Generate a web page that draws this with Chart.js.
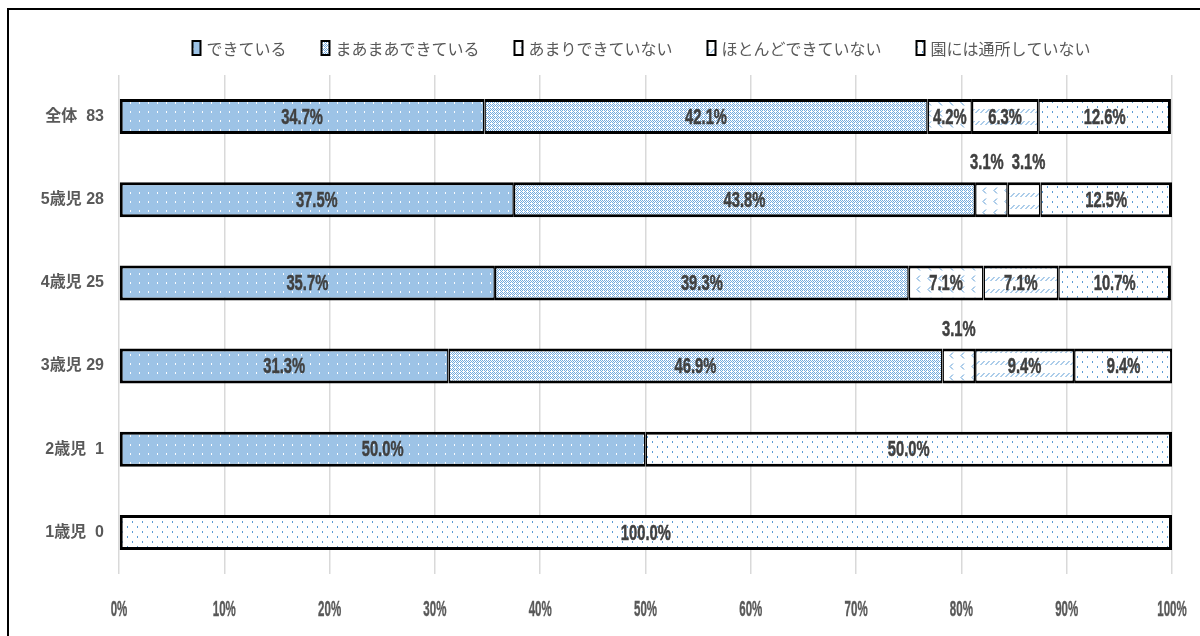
<!DOCTYPE html>
<html lang="ja">
<head>
<meta charset="utf-8">
<title>園での生活の状況</title>
<script src="https://cdn.jsdelivr.net/npm/chart.js@4.4.1/dist/chart.umd.min.js"></script>
<style>
  html, body { margin: 0; padding: 0; background: #ffffff; overflow: hidden; }
  #wrap { position: relative; width: 1200px; height: 636px; }
  #frame {
    position: absolute; left: 7px; top: 8px; right: -10px; bottom: -10px;
    border-left: 2.5px solid #000; border-top: 2.5px solid #000;
    pointer-events: none;
  }
  canvas { display: block; }
</style>
</head>
<body>
<div id="wrap">
  <canvas id="chart" width="1200" height="636"></canvas>
  <div id="frame"></div>
</div>
<script>
// 年齢区分（回答者数）
const categories = ['全体  83', '5歳児 28', '4歳児 25', '3歳児 29', '2歳児  1', '1歳児  0'];

// 回答の区分
const seriesNames = ['できている', 'まあまあできている', 'あまりできていない', 'ほとんどできていない', '園には通所していない'];

// 各区分の割合（%）。該当なしは null
const dekiteiru       = [34.7, 37.5, 35.7, 31.3, 50.0, null];
const maamaa          = [42.1, 43.8, 39.3, 46.9, null, null];
const amari           = [4.2, 3.1, 7.1, 3.1, null, null];
const hotondo         = [6.3, 3.1, 7.1, 9.4, null, null];
const tsushoShiteinai = [12.6, 12.5, 10.7, 9.4, 50.0, 100.0];

// 横軸の目盛り
const xTicks = [0, 10, 20, 30, 40, 50, 60, 70, 80, 90, 100];

const BLUE = '#5b9bd5';
const TEXT_GREY = '#595959';
const LABEL_DARK = '#404040';
const SANS = "'Liberation Sans', 'Noto Sans CJK JP', sans-serif";
const JP = "'Noto Sans CJK JP', 'Noto Sans', sans-serif";

// 塗りつぶし用のパターンを小さなタイルから作る
function tile(w, h, bg, paint) {
  const c = document.createElement('canvas');
  c.width = w; c.height = h;
  const g = c.getContext('2d');
  g.fillStyle = bg;
  g.fillRect(0, 0, w, h);
  paint(g);
  return g.createPattern(c, 'repeat');
}

const patterns = [
  // 水色地に白い点
  tile(9, 9, '#9dc3e6', g => {
    g.fillStyle = 'rgba(255,255,255,0.95)';
    g.fillRect(4, 3, 1, 2);
  }),
  // 細かい点描
  tile(4, 4, '#ffffff', g => {
    g.fillStyle = '#74aadd';
    [[0,0],[2,0],[1,1],[3,1],[0,2],[2,2],[1,3]].forEach(([x, y]) => g.fillRect(x, y, 1, 1));
  }),
  // ジグザグ
  tile(11, 11, '#ffffff', g => {
    g.strokeStyle = BLUE; g.lineWidth = 1;
    g.beginPath();
    g.moveTo(7, 0.5); g.lineTo(4, 3.5); g.lineTo(7, 6.5);
    g.stroke();
  }),
  // 斜めの短い破線
  tile(5, 12, '#ffffff', g => {
    g.strokeStyle = BLUE; g.lineWidth = 1;
    g.beginPath();
    g.moveTo(0.5, 5); g.lineTo(4.5, 1);
    g.stroke();
  }),
  // まばらな点
  tile(10, 10, '#ffffff', g => {
    g.fillStyle = BLUE;
    g.fillRect(2, 1, 1, 2);
    g.fillRect(7, 6, 1, 2);
  })
];

const seriesValues = [dekiteiru, maamaa, amari, hotondo, tsushoShiteinai];

// 行の中で最初／最後に描かれる区分かどうかで枠線の太さを変える
function segBorder(ctx) {
  const i = ctx.dataIndex, d = ctx.datasetIndex;
  let first = true, last = true;
  for (let k = 0; k < d; k++) if (seriesValues[k][i] != null) first = false;
  for (let k = d + 1; k < seriesValues.length; k++) if (seriesValues[k][i] != null) last = false;
  return { top: 3, bottom: 3, left: first ? 3 : 1.5, right: last ? 3 : 1.5 };
}

const datasets = seriesNames.map((name, idx) => ({
  label: name,
  data: seriesValues[idx],
  backgroundColor: patterns[idx],
  borderColor: '#000000',
  borderWidth: segBorder,
  borderSkipped: false,
  barPercentage: 0.42,
  categoryPercentage: 1.0
}));

// 縦長の細い字形で文字を書く（少し太らせる）
function tallText(ctx, text, x, y, sx, sy, weight) {
  ctx.save();
  ctx.translate(x, y);
  ctx.scale(sx, sy);
  ctx.fillText(text, 0, 0);
  if (weight) {
    ctx.lineWidth = weight;
    ctx.strokeStyle = ctx.fillStyle;
    ctx.strokeText(text, 0, 0);
  }
  ctx.restore();
}

const LABEL_SX = 0.82, LABEL_SY = 1.25;

// 棒の上に割合を書く（小さい区分は棒の上側に出す）
const valueLabels = {
  id: 'valueLabels',
  afterDatasetsDraw(chart) {
    const ctx = chart.ctx;
    ctx.save();
    ctx.fillStyle = LABEL_DARK;
    ctx.font = 'bold 18px ' + SANS;
    ctx.textAlign = 'center';
    ctx.textBaseline = 'middle';
    const above = {};
    chart.data.datasets.forEach((ds, d) => {
      const meta = chart.getDatasetMeta(d);
      meta.data.forEach((bar, i) => {
        const v = ds.data[i];
        if (v == null) return;
        const text = v.toFixed(1) + '%';
        const cx = (bar.x + bar.base) / 2;
        if (v < 4) {
          (above[i] = above[i] || []).push({
            text, cx, cy: bar.y - bar.height / 2 - 19,
            w: ctx.measureText(text).width * LABEL_SX
          });
        } else {
          tallText(ctx, text, cx, bar.y + 1, LABEL_SX, LABEL_SY, 0.4);
        }
      });
    });
    // 棒の上に並ぶラベル同士が重ならないよう左右に広げる
    Object.values(above).forEach(list => {
      list.sort((a, b) => a.cx - b.cx);
      for (let k = 1; k < list.length; k++) {
        const a = list[k - 1], b = list[k];
        const need = (a.w + b.w) / 2 + 8 - (b.cx - a.cx);
        if (need > 0) { a.cx -= need / 2; b.cx += need / 2; }
      }
      list.forEach(l => tallText(ctx, l.text, l.cx, l.cy, LABEL_SX, LABEL_SY, 0.4));
    });
    ctx.restore();
  }
};

// 横軸の目盛りラベル
const xTickLabels = {
  id: 'xTickLabels',
  afterDraw(chart) {
    const ctx = chart.ctx;
    const xs = chart.scales.x;
    ctx.save();
    ctx.fillStyle = TEXT_GREY;
    ctx.font = 'bold 16px ' + SANS;
    ctx.textAlign = 'center';
    ctx.textBaseline = 'middle';
    xTicks.forEach(v => {
      tallText(ctx, v + '%', xs.getPixelForValue(v), xs.bottom - 26, 0.72, 1.42, 0.3);
    });
    ctx.restore();
  }
};

// 上部の凡例
const topLegend = {
  id: 'topLegend',
  afterDraw(chart) {
    const ctx = chart.ctx;
    const area = chart.chartArea;
    const boxW = 8, boxH = 14, boxGap = 6, itemGap = 35;
    ctx.save();
    ctx.font = '16px ' + JP;
    const widths = seriesNames.map(n => boxW + boxGap + ctx.measureText(n).width);
    const total = widths.reduce((a, b) => a + b, 0) + itemGap * (widths.length - 1);
    let x = (area.left + area.right) / 2 - 4 - total / 2;
    const cy = 48;
    seriesNames.forEach((name, idx) => {
      ctx.fillStyle = patterns[idx];
      ctx.fillRect(x, cy - boxH / 2, boxW, boxH);
      ctx.strokeStyle = '#000';
      ctx.lineWidth = 2;
      ctx.strokeRect(x, cy - boxH / 2, boxW, boxH);
      ctx.fillStyle = TEXT_GREY;
      ctx.textAlign = 'left';
      ctx.textBaseline = 'middle';
      ctx.fillText(name, x + boxW + boxGap, cy + 1);
      x += widths[idx] + itemGap;
    });
    ctx.restore();
  }
};

new Chart(document.getElementById('chart'), {
  type: 'bar',
  data: { labels: categories, datasets },
  plugins: [valueLabels, xTickLabels, topLegend],
  options: {
    indexAxis: 'y',
    responsive: false,
    animation: false,
    layout: { padding: { top: 75, right: 28, bottom: 0, left: 0 } },
    plugins: {
      legend: { display: false },
      tooltip: { enabled: false }
    },
    scales: {
      x: {
        stacked: true,
        min: 0,
        max: 100,
        afterBuildTicks(scale) { scale.ticks = xTicks.map(v => ({ value: v })); },
        afterFit(scale) { scale.height = 62; },
        grid: { color: '#d9d9d9', lineWidth: 1.5, drawTicks: false },
        border: { display: false },
        ticks: { display: false }
      },
      y: {
        stacked: true,
        afterFit(scale) { scale.width = 119; },
        grid: { display: false, drawTicks: false },
        border: { display: false },
        ticks: {
          padding: 15,
          color: TEXT_GREY,
          font: { family: SANS, size: 16, weight: 'bold' }
        }
      }
    }
  }
});
</script>
</body>
</html>
